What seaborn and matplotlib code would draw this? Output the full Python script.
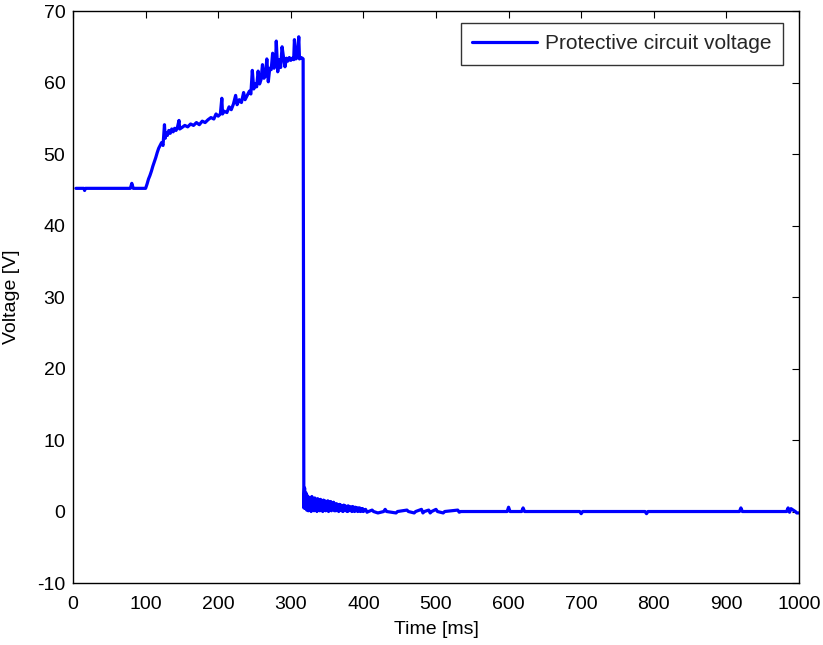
import numpy as np
import pandas as pd
import matplotlib
matplotlib.use("Agg")
import matplotlib.pyplot as plt
import seaborn as sns

# ---- data ----
t_flat = [4, 15, 16, 17, 79, 81, 83, 100]
v_flat = [45.2, 45.2, 44.9, 45.2, 45.2, 45.9, 45.2, 45.2]

t_rise = [102, 104, 106, 108, 110, 112, 114, 116, 118, 120, 122, 124, 125, 126, 127,
          128, 130, 132, 134, 136, 138, 140, 142, 144, 146, 147, 150, 154, 158, 162,
          166, 170, 174, 178, 182, 186, 190, 194, 197, 200, 203, 205, 206, 208, 212,
          215, 218, 221, 224, 226, 229, 232, 235, 237, 240, 243, 245, 247, 249, 251,
          253, 255, 257, 259, 261, 263, 265, 267, 269, 271, 273, 275, 277, 279, 280,
          282, 284, 286, 288, 290, 292, 294, 296, 298, 300, 302, 304, 305, 307, 309,
          311, 312, 314, 316, 317]
v_rise = [45.8, 46.5, 47.0, 47.6, 48.3, 48.9, 49.5, 50.2, 50.8, 51.2, 51.6, 51.2, 52.6, 54.1, 52.2,
          53.0, 52.6, 53.3, 52.9, 53.5, 53.1, 53.6, 53.3, 53.8, 54.7, 53.5, 53.7, 54.0, 53.8, 54.2,
          54.0, 54.4, 54.1, 54.6, 54.4, 54.8, 55.1, 54.9, 55.6, 55.3, 55.6, 57.8, 55.6, 56.0, 55.8,
          56.6, 56.2, 57.0, 58.2, 56.9, 57.6, 57.2, 58.6, 57.6, 58.2, 58.8, 58.4, 61.7, 59.1, 59.8,
          59.4, 61.6, 59.8, 60.4, 62.5, 60.6, 60.9, 63.3, 60.1, 62.0, 61.8, 64.1, 62.0, 62.6, 65.8,
          61.5, 63.2, 62.1, 65.0, 63.5, 62.2, 63.4, 63.0, 63.5, 63.1, 63.4, 63.2, 66.0, 63.3, 63.5,
          66.4, 63.3, 63.5, 63.4, 63.3]

t_drop = list(range(318, 361))
v_drop = [0.5, 3.3, 0.4, 2.6, 0.2, 2.2, 0.1, 2.0, 0.3, 1.9, 0.0, 2.1, 0.2, 1.8, 0.1, 1.9,
          0.3, 1.7, 0.0, 1.8, 0.2, 1.6, 0.1, 1.7, 0.2, 1.5, 0.0, 1.6, 0.3, 1.5, 0.1, 1.4,
          0.2, 1.5, 0.0, 1.3, 0.2, 1.4, 0.1, 1.2, 0.3, 1.3, 0.1]

t_decay = list(range(361, 401))
v_decay = [1.0, 0.1, 1.1, 0.2, 0.9, 0.0, 1.0, 0.2, 0.9, 0.1, 0.8, 0.0, 0.9, 0.2, 0.8, 0.1,
           0.7, 0.0, 0.8, 0.1, 0.7, 0.2, 0.6, 0.0, 0.7, 0.1, 0.6, 0.0, 0.6, 0.2, 0.5, 0.0,
           0.5, 0.1, 0.5, 0.0, 0.4, 0.1, 0.4, 0.0]

t_tail = [403, 405, 407, 412, 414, 420, 428, 430, 432, 445, 447, 460, 462, 470, 472, 480,
          482, 484, 490, 492, 494, 500, 502, 510, 512, 530, 532, 534, 545, 560, 580, 598,
          600, 602, 618, 620, 622, 650, 680, 698, 700, 702, 740, 760, 788, 790, 792, 830,
          860, 880, 918, 920, 922, 950, 983, 985, 987, 989, 995, 997, 1000]
v_tail = [0.3, -0.1, 0.0, 0.2, 0.0, -0.2, 0.0, 0.3, 0.0, -0.2, 0.0, 0.2, 0.0, -0.2, 0.0, 0.3,
          -0.2, 0.0, 0.2, -0.2, 0.0, 0.3, 0.0, -0.2, 0.0, 0.2, -0.1, 0.0, 0.0, 0.0, 0.0, 0.0,
          0.6, 0.0, 0.0, 0.5, 0.0, 0.0, 0.0, 0.0, -0.3, 0.0, 0.0, 0.0, 0.0, -0.3, 0.0, 0.0,
          0.0, 0.0, 0.0, 0.5, 0.0, 0.0, 0.0, 0.5, -0.1, 0.4, 0.0, -0.2, -0.2]

x_ticks = [0, 100, 200, 300, 400, 500, 600, 700, 800, 900, 1000]
y_ticks = [-10, 0, 10, 20, 30, 40, 50, 60, 70]
series_label = "Protective circuit voltage"

df = pd.DataFrame({
    "Time [ms]": t_flat + t_rise + t_drop + t_decay + t_tail,
    "Voltage [V]": v_flat + v_rise + v_drop + v_decay + v_tail,
})
df["series"] = series_label

sns.set_theme(style="white")
plt.rcParams["font.family"] = ["Liberation Sans", "DejaVu Sans"]
plt.rcParams["axes.unicode_minus"] = False
plt.rcParams["axes.linewidth"] = 1.0

fig = plt.figure(figsize=(8.23, 6.45), dpi=100)
ax = fig.add_axes([0.0887, 0.0961, 0.8821, 0.8868])

sns.lineplot(data=df, x="Time [ms]", y="Voltage [V]", hue="series",
             palette=["#0000ff"], estimator=None, sort=False,
             linewidth=2.3, ax=ax)

ax.set_xlim(0, 1000)
ax.set_ylim(-10, 70)
ax.set_xticks(x_ticks)
ax.set_yticks(y_ticks)
ax.tick_params(direction="in", length=5, width=0.8, top=True, right=True,
               labelsize=14, colors="black")
ax.tick_params(axis="x", pad=9)
ax.tick_params(axis="y", pad=5.5)
for s in ax.spines.values():
    s.set_color("black")
    s.set_linewidth(1.0)
ax.set_xlabel("Time [ms]", fontsize=14, color="black")
ax.set_ylabel("Voltage [V]", fontsize=14, color="black")
ax.xaxis.set_label_coords(0.5, -0.066)
ax.yaxis.set_label_coords(-0.0725, 0.5)

leg = ax.legend(loc="upper right", fontsize=15, frameon=True, fancybox=False,
                edgecolor="black", handlelength=3.1, handletextpad=0.4,
                borderpad=0.55, borderaxespad=0.0,
                bbox_to_anchor=(0.978, 0.979))
leg.get_frame().set_linewidth(1.0)

fig.savefig("out.png", dpi=100)
